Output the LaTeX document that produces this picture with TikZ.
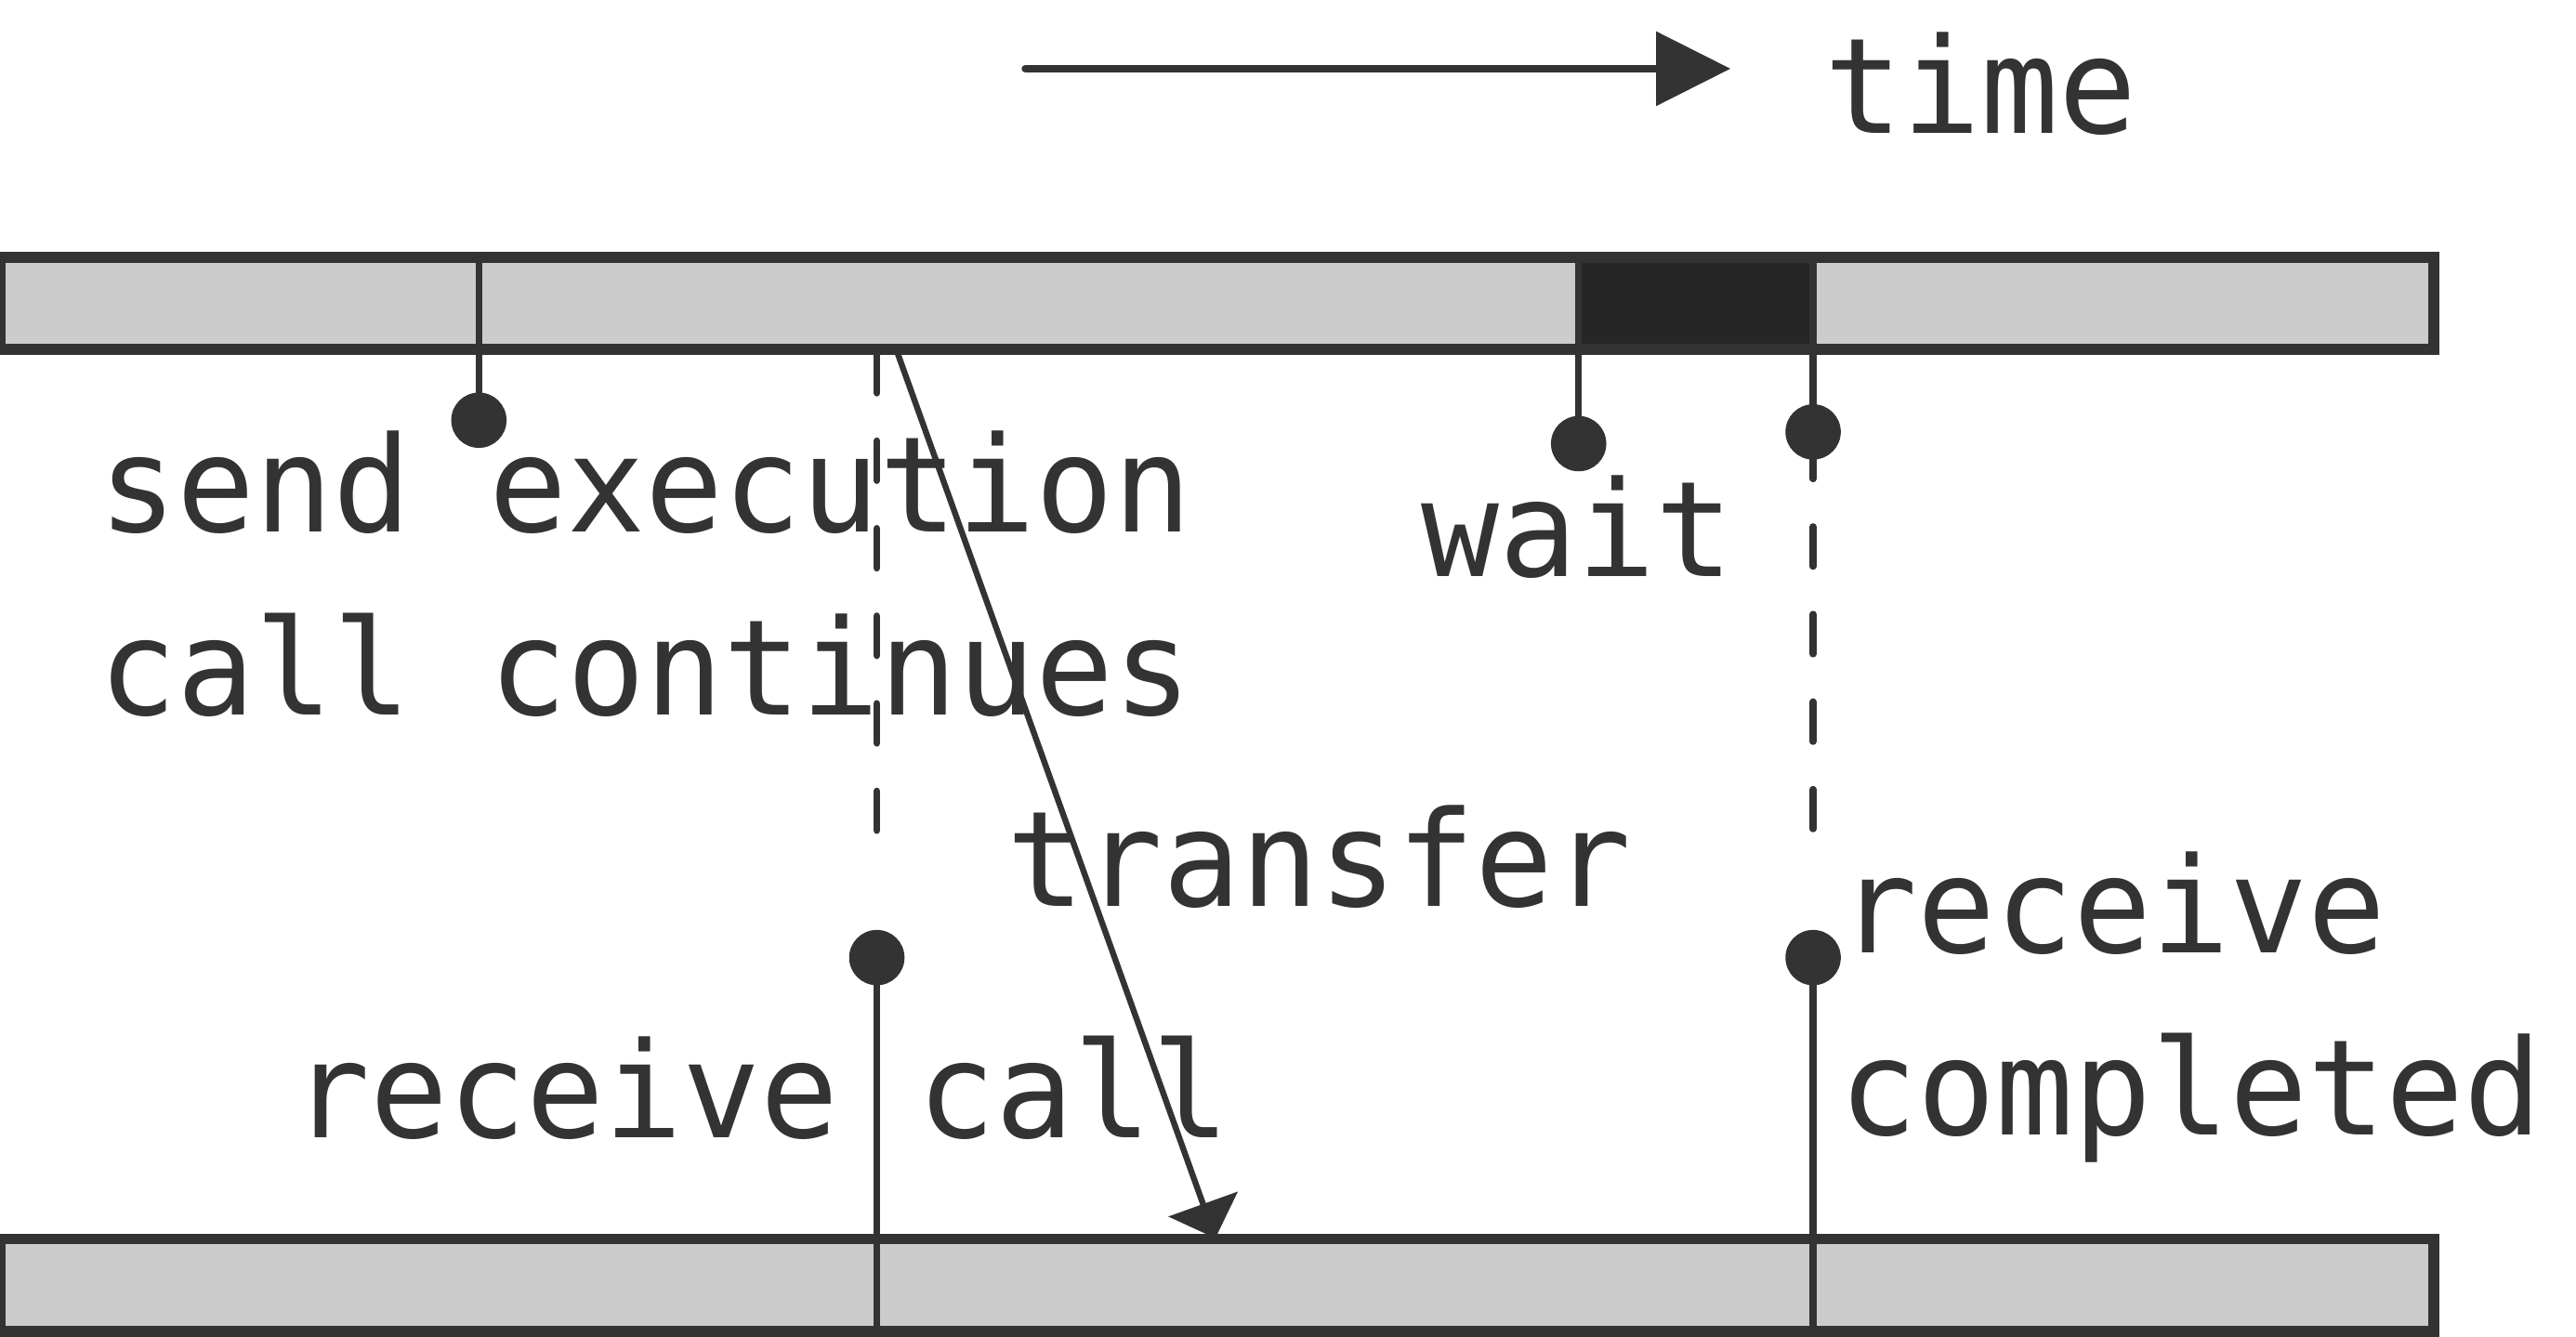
\documentclass[tikz,border=0pt]{standalone}
\usepackage{fontspec}
\newfontfamily\monof[FakeStretch=0.975]{DejaVu Sans Mono}
\usetikzlibrary{arrows.meta}
\definecolor{ink}{HTML}{333333}
\definecolor{barfill}{HTML}{CCCCCC}
\definecolor{blockfill}{HTML}{262626}
\begin{document}
\begin{tikzpicture}[x=0.01cm,y=-0.01cm,
  barfillst/.style={fill=barfill},
  barline/.style={draw=ink,line width=0.066cm},
  tick/.style={draw=ink,line width=0.042cm},
  dashline/.style={draw=ink,line width=0.042cm,line cap=round,dash pattern=on 0.24cm off 0.29cm},
  dot/.style={circle,fill=ink,inner sep=0pt,minimum size=0.335cm},
  lbl/.style={anchor=base west,inner sep=0pt,outer sep=0pt,text=ink,font=\monof\fontsize{22.9pt}{27pt}\selectfont},
]
\useasboundingbox (0,0) rectangle (1560,809.8);

% time arrow
\coordinate (t0) at (621,41.6);
\coordinate (t1) at (1048,41.6);
\draw[ink,line width=0.047cm,line cap=round,-{Triangle[length=0.45cm,width=0.44cm]}] (t0) -- (t1);
\node[lbl] (time) at (1105,80.7) {time};

% top bar
\fill[barfillst] (0,155.7) rectangle (1474,211.5);
\fill[blockfill] (956,155.7) rectangle (1098,211.5);
\draw[barline] (0,155.7) rectangle (1474,211.5);

% bottom bar
\fill[barfillst] (0,750.5) rectangle (1474,806.5);
\draw[barline] (0,750.5) rectangle (1474,806.5);

% dots
\node[dot] (sd) at (290,254.5) {};
\node[dot] (wd) at (956,268.7) {};
\node[dot] (rd1) at (1098,261.6) {};
\node[dot] (rcd) at (531,580) {};
\node[dot] (rd2) at (1098,580) {};

% coordinates on bars
\coordinate (sTop) at (290,155.7);
\coordinate (wTop) at (956,155.7);
\coordinate (rTop) at (1098,155.7);
\coordinate (rcTop) at (531,214);
\coordinate (rcDash) at (531,503);
\coordinate (rDash0) at (1098,266);
\coordinate (rDash1) at (1098,502);
\coordinate (rcBot) at (531,806.5);
\coordinate (rBot) at (1098,806.5);

% connectors
\draw[tick] (sTop) -- (sd.center);
\draw[tick] (wTop) -- (wd.center);
\draw[tick] (rTop) -- (rd1.center);
\draw[dashline] (rcTop) -- (rcDash);
\draw[dashline] (rDash0) -- (rDash1);
\draw[tick] (rcd.center) -- (rcBot);
\draw[tick] (rd2.center) -- (rBot);

% transfer arrow
\coordinate (tr0) at (543.6,214);
\coordinate (tr1) at (736,750);
\draw[ink,line width=0.036cm,-{Triangle[length=0.22cm,width=0.44cm]}] (tr0) -- (tr1);

% labels
\node[lbl] (send) at (60,322) {send execution};
\node[lbl] (cont) at (60,433) {call continues};
\node[lbl] (wait) at (861,349) {wait};
\node[lbl] (transfer) at (610,549) {transfer};
\node[lbl] (recv) at (1114,577) {receive};
\node[lbl] (compl) at (1114,687.5) {completed};
\node[lbl] (recvl) at (177,689) {receive};
\node[lbl] (callr) at (555.5,689) {call};
\end{tikzpicture}
\end{document}
